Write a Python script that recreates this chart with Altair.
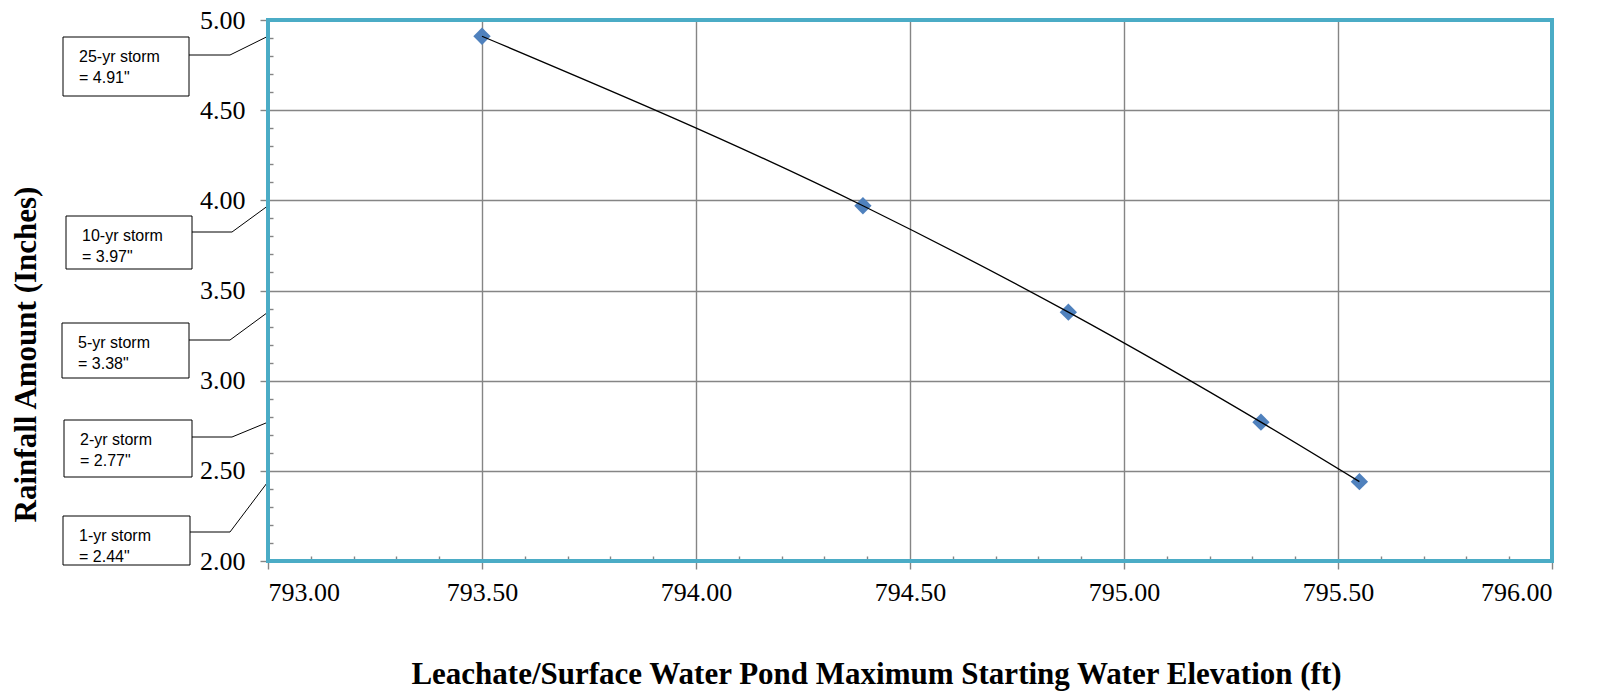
import altair as alt
import pandas as pd

# ---- data ----
elevation = [793.50, 794.39, 794.87, 795.32, 795.55]
rainfall = [4.91, 3.97, 3.38, 2.77, 2.44]
storm = ["25-yr storm", "10-yr storm", "5-yr storm", "2-yr storm", "1-yr storm"]

x_ticks = [793.0, 793.5, 794.0, 794.5, 795.0, 795.5, 796.0]
y_ticks = [2.0, 2.5, 3.0, 3.5, 4.0, 4.5, 5.0]
x_minor = [round(793.0 + 0.1 * i, 1) for i in range(31) if i % 5 != 0]
y_minor = [round(2.0 + 0.1 * i, 1) for i in range(31) if i % 5 != 0]

df = pd.DataFrame({
    "elev": elevation,
    "rain": rainfall,
    "storm": storm,
    "label": [f'{s}\n= {r:.2f}"' for s, r in zip(storm, rainfall)],
})

# ---- layout (page pixels) ----
W, H = 1284, 541
OX, OY = 268, 20
# left, top, right, bottom of callout box, leader y, elbow x
callout = {
    "25-yr storm": (63, 37, 189, 96, 55, 230),
    "10-yr storm": (66, 216, 192, 269, 232, 232),
    "5-yr storm": (62, 323, 189, 378, 340, 230),
    "2-yr storm": (64, 420, 192, 477, 437, 232),
    "1-yr storm": (63, 516, 190, 565, 532, 230),
}

xs = alt.Scale(domain=[793, 796], nice=False, zero=False)
ys = alt.Scale(domain=[2, 5], nice=False, zero=False)
GRID = "#858585"
SERIF = "Liberation Serif"
BORDER = "#4BACC6"

base = alt.Chart(df)

main_x_axis = alt.Axis(
    values=x_ticks, format=".2f", grid=True, gridColor=GRID, gridWidth=1.4,
    tickColor=GRID, tickSize=8, tickWidth=1.4, domain=False,
    labelFont=SERIF, labelFontSize=26, labelColor="black", labelPadding=10,
    title="Leachate/Surface Water Pond Maximum Starting Water Elevation (ft)",
    titleFont=SERIF, titleFontSize=31, titleFontWeight="bold", titleColor="black",
    titleX=608, titleY=122, titleAlign="center", titleBaseline="alphabetic",
)
main_y_axis = alt.Axis(
    values=y_ticks, format=".2f", grid=True, gridColor=GRID, gridWidth=1.4,
    tickColor=GRID, tickSize=8, tickWidth=1.4, domain=False,
    labelFont=SERIF, labelFontSize=26, labelColor="black", labelPadding=15,
    title="Rainfall Amount (Inches)",
    titleFont=SERIF, titleFontSize=31, titleFontWeight="bold", titleColor="black",
    titleX=-242, titleY=334, titleAngle=270, titleAlign="center", titleBaseline="middle",
)

points = base.mark_point(shape="diamond", filled=True, size=300, color="#4F81BD", opacity=1).encode(
    x=alt.X("elev:Q", scale=xs, axis=main_x_axis),
    y=alt.Y("rain:Q", scale=ys, axis=main_y_axis),
)

minor = base.mark_point(opacity=0).encode(
    x=alt.X("elev:Q", scale=xs, axis=alt.Axis(
        orient="top", offset=-H, values=x_minor, labels=False, grid=False, domain=False,
        tickColor=GRID, tickSize=5, tickWidth=1.4, title=None)),
    y=alt.Y("rain:Q", scale=ys, axis=alt.Axis(
        orient="right", offset=-W, values=y_minor, labels=False, grid=False, domain=False,
        tickColor=GRID, tickSize=5, tickWidth=1.4, title=None)),
)

line = base.mark_line(color="black", strokeWidth=1.3, interpolate="monotone").encode(
    x=alt.X("elev:Q", scale=xs, axis=None),
    y=alt.Y("rain:Q", scale=ys, axis=None),
)

frame = base.transform_filter(alt.datum.storm == storm[0]).mark_rect(
    fillOpacity=0, stroke=BORDER, strokeWidth=4
).encode(x=alt.value(0), x2=alt.value(W), y=alt.value(0), y2=alt.value(H))

layers = [minor, points, line]

for name, (l, t, r, b, ly, ex) in callout.items():
    sub = base.transform_filter(alt.datum.storm == name)
    box = sub.mark_rect(fill="white", stroke="black", strokeWidth=1).encode(
        x=alt.value(l - OX), x2=alt.value(r - OX),
        y=alt.value(t - OY), y2=alt.value(b - OY),
    )
    txt = sub.mark_text(
        align="left", baseline="alphabetic", lineBreak="\n", lineHeight=21,
        font="Liberation Sans", fontSize=16, color="black",
    ).encode(
        x=alt.value(l - OX + 16), y=alt.value(t - OY + 25), text="label:N",
    )
    hrule = sub.mark_rule(color="black", strokeWidth=1).encode(
        x=alt.value(r - OX), x2=alt.value(ex - OX), y=alt.value(ly - OY),
    )
    drule = sub.mark_rule(color="black", strokeWidth=1).encode(
        x=alt.value(0), x2=alt.value(ex - OX),
        y=alt.Y("rain:Q", scale=ys, axis=None), y2=alt.value(ly - OY),
    )
    layers += [box, txt, hrule, drule]

layers.append(frame)

chart = alt.layer(*layers).resolve_axis(x="independent", y="independent").properties(
    width=W, height=H,
    autosize=alt.AutoSizeParams(type="none"),
    padding={"left": OX - 8, "top": OY - 8, "right": 30, "bottom": 130},
).configure_view(stroke=None).configure(background="white")

chart.save("out.html", embed_options={"renderer": "svg", "actions": False})
